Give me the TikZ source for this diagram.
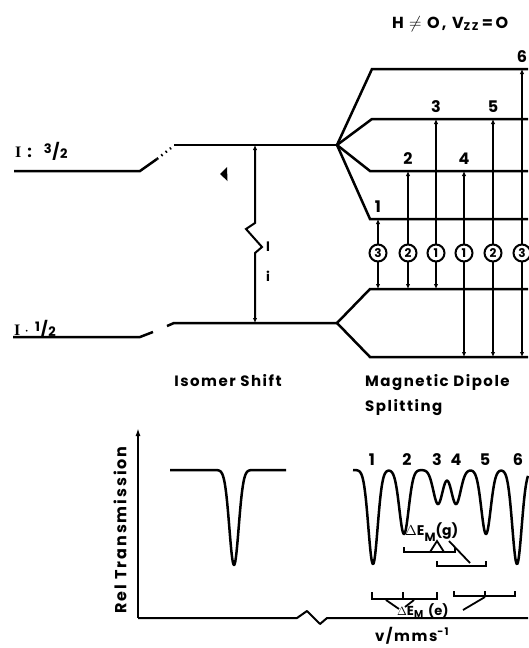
\documentclass[tikz,border=0pt]{standalone}
\usepackage{fontspec}
\setmainfont{Poppins}
\newfontfamily\seriff{Liberation Serif}
\usetikzlibrary{arrows.meta}
\begin{document}
\begin{tikzpicture}[x=1pt,y=-1pt,
  lvl/.style={line width=2.5pt},
  tr/.style={line width=2pt,{Latex[length=5pt,width=4.5pt]}-{Latex[length=5pt,width=4.5pt]}},
  num/.style={font=\fontsize{16}{16}\selectfont\bfseries, inner sep=0pt},
  circ/.style={circle, draw, line width=2pt, fill=white, minimum size=17pt, inner sep=0pt, font=\fontsize{12}{12}\selectfont\bfseries},
  lbl/.style={font=\fontsize{15}{15}\selectfont\bfseries\addfontfeature{LetterSpace=10}, inner sep=0pt},
  spec/.style={line width=2.5pt, line join=round},
  brk/.style={line width=1.8pt},
  declare function={g(\x,\c)=exp(-min(9,((\x-\c)/6.6)^2));}
]
\useasboundingbox (0,0) rectangle (528,648);

% title
\node[font=\fontsize{16}{16}\selectfont\bfseries\addfontfeature{LetterSpace=14}, inner sep=0pt, anchor=base west] (title) at (392,28) {H\,\,$\neq$\,\,O, V\textsubscript{ZZ}\,=\,O};

% ---- isomer shift levels
\coordinate (lxA) at (14,171); \coordinate (lxB) at (140,171);
\coordinate (lxC) at (157,159); \coordinate (lxD) at (171,148);
\coordinate (e0L) at (174,145); \coordinate (e0R) at (337,145);
\coordinate (lgA) at (13,337); \coordinate (lgB) at (140,337);
\coordinate (lgC) at (153,332);
\coordinate (g0s) at (167,326); \coordinate (g0L) at (174,323); \coordinate (g0R) at (337,323);

\draw[lvl] (lxA) -- (lxB) -- (lxC);
\draw[lvl, dash pattern=on 1.5pt off 4pt] (lxC) -- (lxD);
\draw[lvl] (e0L) -- (e0R);
\draw[lvl] (lgA) -- (lgB) -- (lgC);
\draw[lvl] (g0s) -- (g0L) -- (g0R);

\node[font=\fontsize{16}{16}\selectfont\bfseries, inner sep=0pt, anchor=base west] (Iex) at (15,157) {{\seriff I}\hspace{6pt}:\hspace{12pt}\raisebox{4pt}{\fontsize{13}{13}\selectfont 3}\kern0.5pt/\kern0.5pt\raisebox{-1pt}{\fontsize{13}{13}\selectfont 2}};
\node[font=\fontsize{16}{16}\selectfont\bfseries, inner sep=0pt, anchor=base west] (Igr) at (14,335) {{\seriff I}\hspace{4pt}$\cdot$\hspace{6pt}\raisebox{4pt}{\fontsize{13}{13}\selectfont 1}\kern0.5pt/\kern0.5pt\raisebox{-1pt}{\fontsize{13}{13}\selectfont 2}};

% isomer shift arrow with break
\coordinate (isT) at (255,145); \coordinate (isB) at (255,323);
\draw[tr] (isT) -- (255,223) -- (246,229) -- (262,247) -- (255,253) -- (isB);
\fill (220,174) -- (227,167) -- (227.5,181) -- cycle;
\node[font=\fontsize{13}{13}\selectfont\bfseries, inner sep=0pt] (bar) at (268,247) {l};
\node[font=\fontsize{13}{13}\selectfont\bfseries, inner sep=0pt] (ii) at (268,276) {i};

% ---- magnetic splitting
\coordinate (e1) at (372,69); \coordinate (e2) at (372,119);
\coordinate (e3) at (370,171); \coordinate (e4) at (370,219);
\coordinate (e1R) at (528,69); \coordinate (e2R) at (528,119);
\coordinate (e3R) at (528,171); \coordinate (e4R) at (528,219);
\draw[lvl] (e0R) -- (e1) -- (e1R);
\draw[lvl] (e0R) -- (e2) -- (e2R);
\draw[lvl] (e0R) -- (e3) -- (e3R);
\draw[lvl] (e0R) -- (e4) -- (e4R);
\coordinate (g1) at (370,289); \coordinate (g2) at (370,357);
\coordinate (g1R) at (528,289); \coordinate (g2R) at (528,357);
\draw[lvl] (g0R) -- (g1) -- (g1R);
\draw[lvl] (g0R) -- (g2) -- (g2R);

% transitions
\foreach \n/\x/\yt/\yb/\c in {1/378/219/289/3, 2/408/171/289/2, 3/436/119/289/1, 4/464/171/357/1, 5/493/119/357/2, 6/522/69/357/3}{
  \coordinate (t\n a) at (\x,\yt); \coordinate (t\n b) at (\x,\yb);
  \draw[tr] (t\n b) -- (t\n a);
  \node[circ] (c\n) at (\x,253) {\c};
  \node[num, anchor=south] (n\n) at (\x,\yt-6) {\n};
}

\node[lbl, anchor=base] (iso) at (228,386) {Isomer Shift};
\node[lbl, anchor=base west] (md) at (365,386) {Magnetic Dipole};
\node[lbl, anchor=base west] (sp) at (365,411) {Splitting};

% ---- spectrum
\coordinate (ax0) at (138,618); \coordinate (axT) at (138,428);
\coordinate (axR) at (528,618);
\draw[line width=2pt, -{Latex[length=8pt,width=5pt]}] (ax0) -- (axT);
\draw[line width=2pt, line join=round] (ax0) -- (297,618) -- (307,611) -- (320,624) -- (327,618) -- (axR);
\node[font=\fontsize{16}{16}\selectfont\bfseries\addfontfeature{LetterSpace=12}, inner sep=0pt, rotate=90] (rt) at (120,530) {Rel Transmission};

\draw[spec] plot[domain=170:286, samples=200] (\x,{470+95*g(\x,234)});
\draw[spec] plot[domain=353:528, samples=400] (\x,{470+94*g(\x,373)+64*g(\x,404)+34*g(\x,438)+34*g(\x,456)+64*g(\x,486)+94*g(\x,517)});

\foreach \n/\x in {1/372,2/407,3/437,4/456,5/485,6/518}{
  \node[num] (s\n) at (\x,460) {\n};
}

% brackets
\draw[brk] (404,547) |- (455,552) -- (455,547);
\draw[brk] (437,561) |- (486,566) -- (486,561);
\node[font=\fontsize{14}{14}\selectfont\bfseries, inner sep=0pt, anchor=base west] (dEg) at (405,535) {$\Delta$E\raisebox{-6pt}{\fontsize{12}{12}\selectfont M}(g)};
\draw[brk] (430,552) -- (437,541) -- (444,552);
\draw[brk] (449,541) -- (470,563);

\draw[brk] (372,592) |- (437,599) -- (437,592);
\draw[brk] (403,599) -- (403,592);
\draw[brk] (454,591) |- (515,596) -- (515,591);
\draw[brk] (485,596) -- (485,591);
\node[font=\fontsize{13}{13}\selectfont\bfseries, inner sep=0pt, anchor=base west] (dEe) at (397,615) {$\Delta$E\raisebox{-2pt}{\fontsize{10}{10}\selectfont M}\hspace{5pt}(e)};
\draw[brk] (386,600) -- (399,609);
\draw[brk] (414,600) -- (405,607);
\draw[brk] (485,597) -- (463,610);

\node[lbl, anchor=base] (vax) at (412,641) {v/mms\textsuperscript{-1}};
\end{tikzpicture}
\end{document}
